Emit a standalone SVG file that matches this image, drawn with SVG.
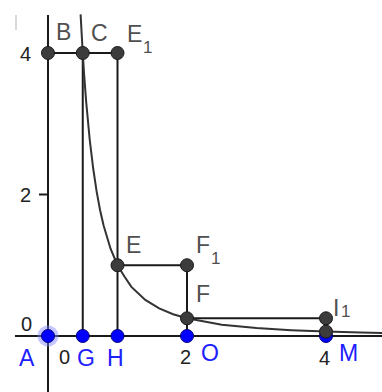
<svg xmlns="http://www.w3.org/2000/svg" width="382" height="392" viewBox="0 0 382 392">
<style>
.ax{stroke:#1a1a1a;stroke-width:2;fill:none}
.seg{stroke:#1a1a1a;stroke-width:2;fill:none}
.crv{stroke:#333;stroke-width:2;fill:none}
.pt{fill:#3c3c3c;stroke:#1a1a1a;stroke-width:1}
.bp{fill:#0000ff;stroke:#00007a;stroke-width:1}
.lbl{font-family:"Liberation Sans",Arial,sans-serif;font-size:23px;fill:#505050}
.sub{font-family:"Liberation Sans",Arial,sans-serif;font-size:17px;fill:#505050}
.num{font-family:"Liberation Sans",Arial,sans-serif;font-size:20px;fill:#222}
.blbl{font-family:"Liberation Sans",Arial,sans-serif;font-size:23px;fill:#2020ff}
</style>
<rect width="382" height="392" fill="#fff"/>
<g id="axes">
<line class="ax" x1="48" y1="15" x2="48" y2="392"/>
<line class="ax" x1="15" y1="336" x2="382" y2="336"/>
<line class="ax" x1="39" y1="194.5" x2="48" y2="194.5"/>
<line x1="16" y1="15" x2="16" y2="30" stroke="#ccc" stroke-width="1.5"/>
<text class="num" x="20" y="61">4</text>
<text class="num" x="20" y="202">2</text>
<text class="num" x="21" y="331">0</text>
<text class="num" x="59" y="364">0</text>
<text class="num" x="180" y="364">2</text>
<text class="num" x="319" y="365">4</text>
</g>
<g id="connectors">
<line class="seg" x1="48" y1="53" x2="117.5" y2="53"/>
<line class="seg" x1="82.75" y1="53" x2="82.75" y2="336"/>
<line class="seg" x1="117.5" y1="53" x2="117.5" y2="336"/>
<line class="seg" x1="117.5" y1="265.25" x2="187" y2="265.25"/>
<line class="seg" x1="187" y1="265.25" x2="187" y2="336"/>
<line class="seg" x1="187" y1="318.3" x2="326" y2="318.3"/>
<line class="seg" x1="326" y1="318.3" x2="326" y2="336"/>
<polyline class="crv" points="80.6,14.4 81.4,29 82.75,53 84.1,74.4 86.2,102.1 89.7,139.5 93.2,168.5 96.65,191.6 100.1,210.2 103.6,225.5 110.55,248.7 117.5,265.25 124.45,276.5 131.4,286.9 145.3,299.9 159.2,308.4 173.1,314.2 187,318.3 221.75,324.7 256.5,328.1 291.25,330.2 326,331.6 360.75,332.5 382,332.9"/>
</g>
<g id="A"><circle cx="48" cy="336" r="10.5" fill="#7f7fff" fill-opacity="0.45"/><circle class="bp" cx="48" cy="336" r="6.5"/><text class="blbl" x="19" y="366">A</text></g>
<g id="G"><circle class="bp" cx="82.75" cy="336" r="6.5"/><text class="blbl" x="77" y="366">G</text></g>
<g id="H"><circle class="bp" cx="117.5" cy="336" r="6.5"/><text class="blbl" x="107" y="366">H</text></g>
<g id="O"><circle class="bp" cx="187" cy="336" r="6.5"/><text class="blbl" x="201" y="361">O</text></g>
<g id="M"><circle class="bp" cx="326" cy="336" r="6.5"/><text class="blbl" x="339" y="361">M</text></g>
<g id="B"><circle class="pt" cx="48" cy="53" r="6.5"/><text class="lbl" x="56" y="40">B</text></g>
<g id="C"><circle class="pt" cx="82.75" cy="53" r="6.5"/><text class="lbl" x="91" y="41">C</text></g>
<g id="E1"><circle class="pt" cx="117.5" cy="53" r="6.5"/><text class="lbl" x="127" y="42">E</text><text class="sub" x="143" y="53">1</text></g>
<g id="E"><circle class="pt" cx="117.5" cy="265.25" r="6.5"/><text class="lbl" x="126" y="253">E</text></g>
<g id="F1"><circle class="pt" cx="187" cy="265.25" r="6.5"/><text class="lbl" x="196" y="253">F</text><text class="sub" x="211" y="264">1</text></g>
<g id="F"><circle class="pt" cx="187" cy="318.3" r="6.5"/><text class="lbl" x="196" y="302">F</text></g>
<g id="P"><circle class="pt" cx="326" cy="331.6" r="6.5"/></g>
<g id="I1"><circle class="pt" cx="326" cy="318.3" r="6.5"/><text class="lbl" x="333" y="316">I</text><text class="sub" x="341" y="317">1</text></g>
</svg>
